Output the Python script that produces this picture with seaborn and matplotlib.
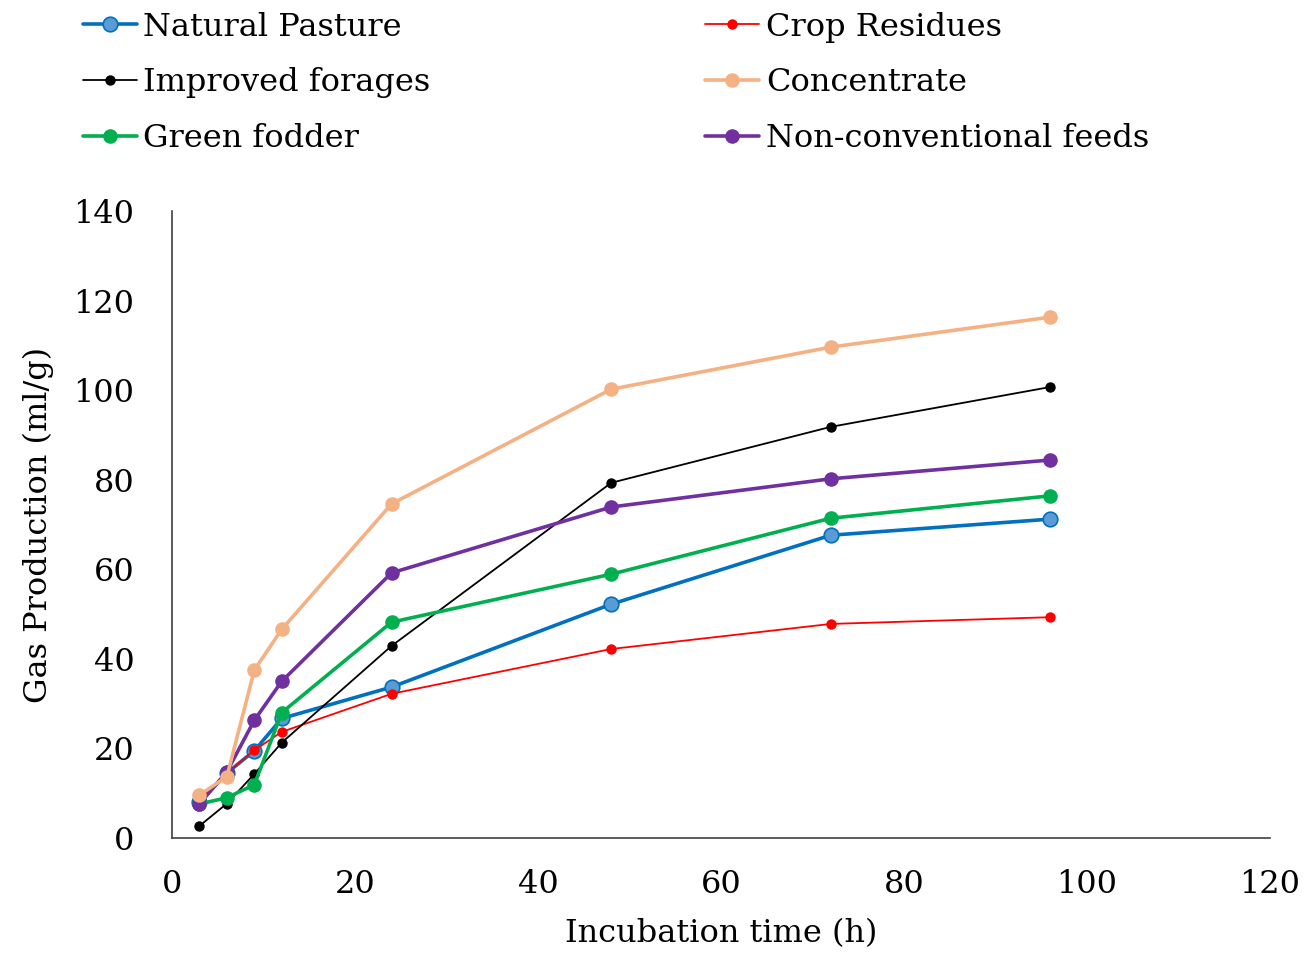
import matplotlib
matplotlib.use("Agg")
import matplotlib.pyplot as plt
import seaborn as sns
import pandas as pd

hours = [3, 6, 9, 12, 24, 48, 72, 96]
natural_pasture = [8.0, 14.5, 19.5, 26.7, 33.7, 52.2, 67.6, 71.2]
crop_residues = [8.5, 14.5, 19.6, 23.7, 32.2, 42.2, 47.8, 49.3]
improved_forages = [2.7, 7.7, 14.3, 21.3, 42.9, 79.3, 91.8, 100.7]
concentrate = [9.6, 13.7, 37.5, 46.6, 74.6, 100.2, 109.6, 116.3]
green_fodder = [7.6, 9.0, 11.9, 28.0, 48.2, 58.9, 71.4, 76.4]
non_conventional = [7.6, 14.8, 26.3, 35.0, 59.2, 73.9, 80.2, 84.4]

series_names = ["Natural Pasture", "Crop Residues", "Improved forages",
                "Concentrate", "Green fodder", "Non-conventional feeds"]
series_values = [natural_pasture, crop_residues, improved_forages,
                 concentrate, green_fodder, non_conventional]

styles = {
    "Natural Pasture": dict(color="#0070C0", mfc="#5B9BD5", lw=2.6, ms=10.5),
    "Crop Residues": dict(color="#FF0000", mfc="#FF0000", lw=1.3, ms=7.5),
    "Improved forages": dict(color="#000000", mfc="#000000", lw=1.3, ms=7.5),
    "Concentrate": dict(color="#F4B183", mfc="#F4B183", lw=2.6, ms=10.5),
    "Green fodder": dict(color="#00B050", mfc="#00B050", lw=2.6, ms=10.5),
    "Non-conventional feeds": dict(color="#7030A0", mfc="#7030A0", lw=2.6, ms=10.5),
}

rows = []
for name, vals in zip(series_names, series_values):
    for h, v in zip(hours, vals):
        rows.append({"hours": h, "gas": v, "series": name})
df = pd.DataFrame(rows)

sns.set_style("white")
plt.rcParams["font.family"] = ["DejaVu Serif"]
plt.rcParams["text.color"] = "black"
plt.rcParams["axes.labelcolor"] = "black"

fig = plt.figure(figsize=(13.11, 9.55), dpi=100)
ax = fig.add_axes([0.1312, 0.1225, 0.8375, 0.6566])

draw_order = ["Natural Pasture", "Crop Residues", "Improved forages",
              "Green fodder", "Non-conventional feeds", "Concentrate"]
handles = {}
for name in draw_order:
    st = styles[name]
    sub = df[df["series"] == name]
    sns.lineplot(data=sub, x="hours", y="gas", ax=ax, color=st["color"],
                 linewidth=st["lw"], marker="o", markersize=st["ms"],
                 markerfacecolor=st["mfc"], markeredgecolor=st["color"],
                 markeredgewidth=1.2 if st["mfc"] != st["color"] else 0,
                 label=name, legend=False)
    handles[name] = ax.lines[-1]

ax.set_xlim(0, 120)
ax.set_ylim(0, 140)
ax.set_xticks(range(0, 121, 20))
ax.set_yticks(range(0, 141, 20))
for s in ["top", "right"]:
    ax.spines[s].set_visible(False)
for s in ["left", "bottom"]:
    ax.spines[s].set_color("#404040")
    ax.spines[s].set_linewidth(1.2)
ax.tick_params(direction="in", length=9, width=1.2, color="#404040",
               labelsize=23, labelcolor="black")
ax.tick_params(axis="y", pad=27)
ax.tick_params(axis="x", pad=22)
ax.set_xlabel("Incubation time (h)", fontsize=23, labelpad=13)
ax.set_ylabel("Gas Production (ml/g)", fontsize=23, labelpad=14)

# legend filled row-wise like the reference (matplotlib fills by column)
legend_order = ["Natural Pasture", "Improved forages", "Green fodder",
                "Crop Residues", "Concentrate", "Non-conventional feeds"]
leg = fig.legend([handles[n] for n in legend_order], legend_order,
                 loc="upper left", bbox_to_anchor=(0.041, 1.018), ncol=2,
                 frameon=False, fontsize=23, handlelength=1.7,
                 handletextpad=0.2, labelspacing=0.78, columnspacing=8.6)

fig.savefig("out.png", dpi=100)
